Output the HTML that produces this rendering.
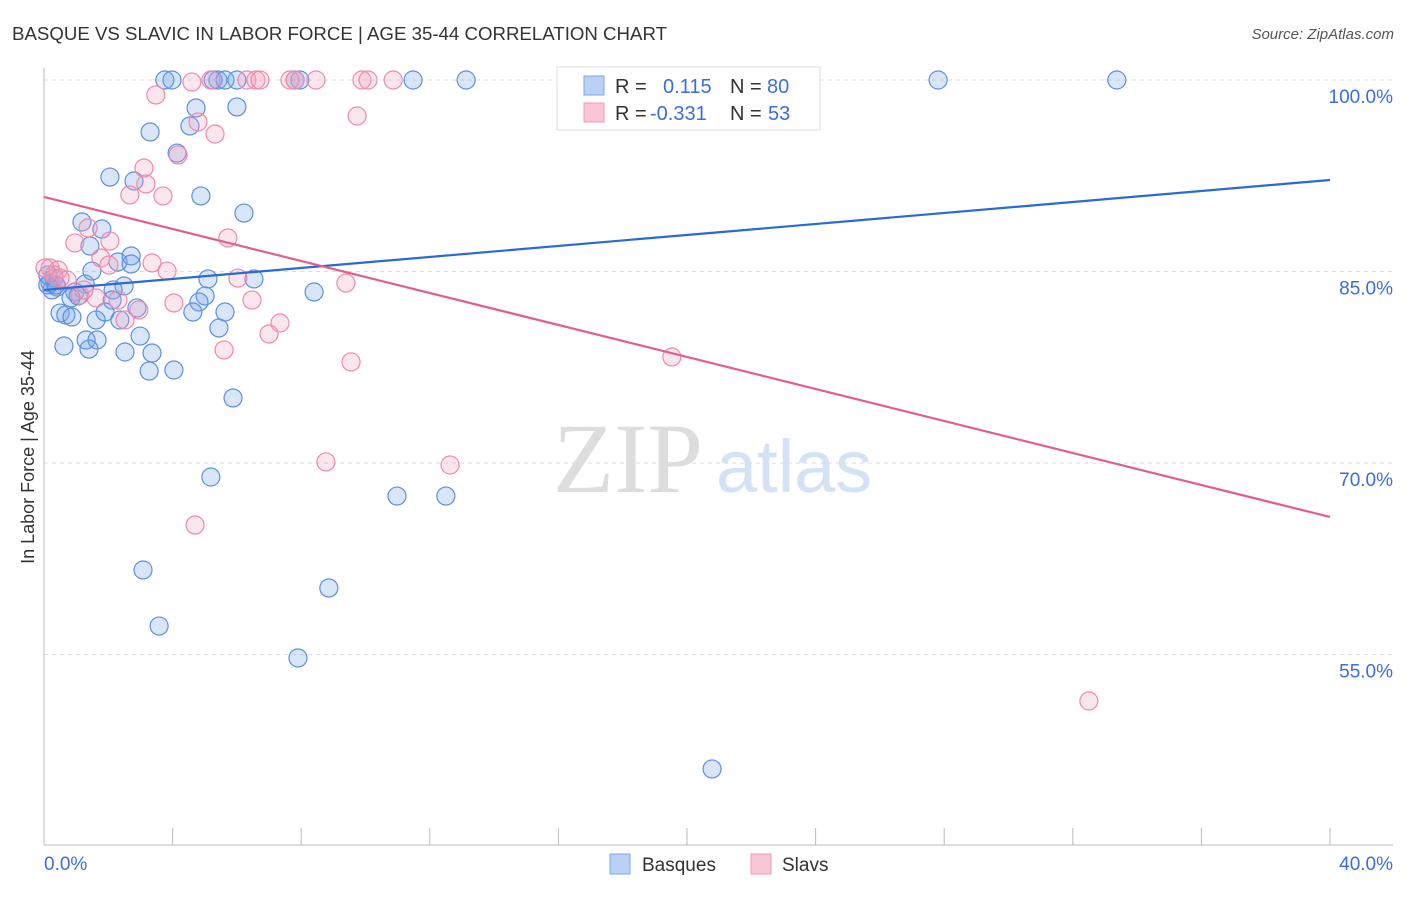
<!DOCTYPE html>
<html><head><meta charset="utf-8"><style>
body{margin:0;background:#fff;font-family:"Liberation Sans",sans-serif}
svg text{font-family:"Liberation Sans",sans-serif}
</style></head><body>
<svg id="c" width="1406" height="892" xmlns="http://www.w3.org/2000/svg">
<text x="12" y="40" font-size="18" fill="#333" textLength="655" lengthAdjust="spacingAndGlyphs">BASQUE VS SLAVIC IN LABOR FORCE | AGE 35-44 CORRELATION CHART</text>
<text x="1394" y="39" font-size="15" fill="#555" text-anchor="end" font-style="italic">Source: ZipAtlas.com</text>
<g>
<text x="553" y="492" font-size="100" fill="#ddd" font-family="Liberation Serif" style="font-family:'Liberation Serif',serif">ZIP</text>
<text x="716" y="492" font-size="74" fill="#d4e2f5">atlas</text>
</g>
<g id="grid"></g><g id="axes"></g><g id="pts"></g><g id="lines"></g>
<text transform="translate(34,457) rotate(-90)" font-size="18" fill="#333" text-anchor="middle">In Labor Force | Age 35-44</text>
<g>
<rect x="557" y="67" width="263" height="63" fill="#fff" stroke="#ddd"/>
<rect x="584" y="76" width="20" height="19" fill="#b9d1f5" stroke="#7ea8e8"/>
<rect x="584" y="103" width="20" height="19" fill="#f9c6d6" stroke="#f09ab5"/>
<text x="615" y="93" font-size="20" fill="#333">R =</text>
<text x="663" y="93" font-size="20" fill="#3a6fd8">0.115</text>
<text x="730" y="93" font-size="20" fill="#333">N =</text>
<text x="767" y="93" font-size="20" fill="#3a6fd8">80</text>
<text x="615" y="120" font-size="20" fill="#333">R =</text>
<text x="650" y="120" font-size="20" fill="#3a6fd8">-0.331</text>
<text x="730" y="120" font-size="20" fill="#333">N =</text>
<text x="768" y="120" font-size="20" fill="#3a6fd8">53</text>
</g>
<g>
<rect x="610" y="854" width="20" height="20" fill="#b9d1f5" stroke="#7ea8e8"/>
<text x="642" y="871" font-size="19" fill="#333">Basques</text>
<rect x="751" y="854" width="20" height="20" fill="#f9c6d6" stroke="#f09ab5"/>
<text x="782" y="871" font-size="19" fill="#333">Slavs</text>
</g>
</svg>
<script>
const blueX=[3.76,3.98,5.26,5.41,5.63,6.00,7.81,7.96,11.48,13.13,23.11,27.81,33.37,4.73,6.00,3.30,4.54,4.14,2.05,2.80,4.88,6.22,1.18,1.80,1.43,2.30,2.71,2.71,5.10,6.53,1.49,0.31,0.19,0.40,1.28,0.25,0.96,2.49,2.15,5.01,8.40,0.84,1.06,2.12,2.89,4.82,0.50,0.68,0.87,1.62,1.90,4.63,5.63,5.44,2.99,1.31,1.65,0.62,1.40,2.52,3.36,3.27,4.04,5.88,5.19,10.98,12.50,3.08,8.86,3.58,7.90,20.78,0.12,0.37,2.36,0.12];
const blueY=[100,100,100,100,100,100,100,100,100,100,99.77,100,100,97.81,97.89,95.93,96.40,94.28,92.40,92.09,90.92,89.58,88.88,88.33,87.00,85.75,86.22,85.59,84.42,84.42,85.04,84.49,84.10,83.79,84.02,83.56,83.40,83.87,83.56,83.09,83.40,82.93,83.09,82.77,82.15,82.62,81.75,81.60,81.44,81.21,81.83,81.83,81.83,80.58,79.95,79.64,79.64,79.17,78.93,78.70,78.62,77.21,77.29,75.10,68.91,67.42,67.42,61.63,60.22,57.24,54.74,46.05,83.95,83.95,81.21,84.73];
const pinkX=[3.48,4.60,5.19,6.31,6.59,6.72,7.65,7.81,8.46,9.89,10.08,10.86,4.79,5.32,4.17,3.11,3.17,2.67,3.70,5.72,0.96,1.37,2.05,1.77,2.02,3.36,3.83,6.03,9.39,0.19,0.44,0.31,0.72,1.12,1.62,2.30,2.95,4.04,6.47,2.52,7.34,7.00,5.60,9.55,9.74,19.53,8.77,12.63,4.70,32.50,0.03,1.24,0.50];
const pinkY=[98.83,99.84,100,100,100,100,100,100,100,100,100,100,96.71,95.77,94.13,93.11,91.86,91.0,90.92,87.63,87.24,88.41,87.39,86.06,85.51,85.67,85.04,84.49,84.10,85.28,85.12,84.73,84.34,83.16,82.93,82.77,81.99,82.54,82.77,81.21,80.97,80.11,78.86,77.92,97.18,78.31,70.09,69.85,65.15,51.37,85.28,83.56,84.49];
const trendBlue=[83.56,92.17];
const trendPink=[90.84,65.78];
const yTicks=[100,85,70,55];
const yTickLabels=["100.0%","85.0%","70.0%","55.0%"];
const ns="http://www.w3.org/2000/svg";
const X=v=>44+v*32.15, Y=v=>80+(100-v)*12.77;
function mk(p,t,a){const e=document.createElementNS(ns,t);for(const k in a)e.setAttribute(k,a[k]);p.appendChild(e);return e;}
const grid=document.getElementById('grid'),axes=document.getElementById('axes'),pts=document.getElementById('pts'),lines=document.getElementById('lines');
yTicks.forEach((v,i)=>{
 const l=mk(grid,'line',{x1:44,x2:1393,y1:Y(v),y2:Y(v),stroke:'#ddd','stroke-dasharray':'4,4'});
 
 
 const t=mk(grid,'text',{x:1393,y:Y(v)+23,'font-size':19,fill:'#3a6fd8','text-anchor':'end'});
 t.textContent=yTickLabels[i];
 
 
});
const ax=mk(axes,'line',{x1:44,x2:44,y1:68,y2:845,stroke:'#bbb'});


const bx=mk(axes,'line',{x1:44,x2:1393,y1:845,y2:845,stroke:'#bbb'});


for(let i=0;i<=10;i++){const tk=mk(axes,'line',{x1:X(i*4),x2:X(i*4),y1:828,y2:845,stroke:'#bbb'});
 
 }
const x0=mk(axes,'text',{x:44,y:870,'font-size':19,fill:'#3a6fd8'});x0.textContent='0.0%';


const x1=mk(axes,'text',{x:1393,y:870,'font-size':19,fill:'#3a6fd8','text-anchor':'end'});x1.textContent='40.0%';


blueX.forEach((v,i)=>{const c=mk(pts,'circle',{cx:X(v),cy:Y(blueY[i]),r:9,fill:'rgba(120,165,235,0.28)',stroke:'#5b8fe0','stroke-width':1.2});
 
 });
pinkX.forEach((v,i)=>{const c=mk(pts,'circle',{cx:X(v),cy:Y(pinkY[i]),r:9,fill:'rgba(245,160,190,0.26)',stroke:'#ee8aa8','stroke-width':1.2});
 
 });
const lb=mk(lines,'line',{x1:X(0),y1:Y(trendBlue[0]),x2:X(40),y2:Y(trendBlue[1]),stroke:'#2a6ad6','stroke-width':2.2});


const lp=mk(lines,'line',{x1:X(0),y1:Y(trendPink[0]),x2:X(40),y2:Y(trendPink[1]),stroke:'#e0608c','stroke-width':2.2});


</script>
</body></html>
